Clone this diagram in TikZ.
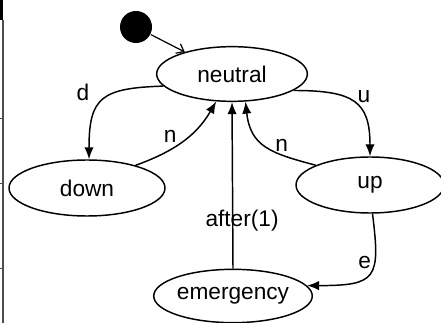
\documentclass[tikz,border=0pt]{standalone}
\usepackage{fontspec}
\setmainfont{Liberation Sans}
\usetikzlibrary{shapes.geometric,arrows.meta}
\begin{document}
\begin{tikzpicture}[x=0.75pt,y=-0.75pt,line width=1.1pt,
  every node/.style={font=\fontsize{17}{20}\selectfont},
  sstate/.style={draw,ellipse,inner sep=0pt,minimum height=41pt},
  trans/.style={-{Latex[length=9pt,width=7pt]}},
  startdot/.style={circle,fill,inner sep=0pt,minimum size=24pt}]

  \useasboundingbox (0,0) rectangle (441,323);
  \clip (0,0) rectangle (441,323);

  % frame bits on the left
  \fill (0,0) rectangle (3,20);
  \draw[black!70,line width=1pt] (3,20) -- (3,323);
  \foreach \t in {118,183,268}
    \draw[black!70,line width=0.6pt] (0,\t) -- (3,\t);

  \node[startdot] (init) at (136,27) {};
  \node[sstate,minimum width=113pt] (neutral) at (232,74) {neutral};
  \node[sstate,minimum width=117pt,minimum height=42pt] (down) at (87,188) {down};
  \node[sstate,minimum width=111pt,minimum height=42pt] (up) at (370,185) {up};
  \node[sstate,minimum width=117pt,minimum height=40pt] (emergency) at (233,296) {emergency};

  \draw[-{Straight Barb[length=5pt,width=8pt]},line width=0.9pt] (init) -- (neutral.155);

  \draw[trans] (neutral.190) .. controls +(-62,2) and +(0,-62) ..
    node[pos=0.55,anchor=east,inner sep=0pt,xshift=-7.5pt,yshift=8pt]{d} (down.86);
  \draw[trans] (down.25) to[out=20,in=240]
    node[pos=0.45,above left,inner sep=1pt]{n} (neutral.240);
  \draw[trans] (emergency.north) --
    node[pos=0.29,xshift=7pt]{after(1)} (neutral.south);
  \draw[trans] (up.160) .. controls +(-45,-12) and +(5,45) ..
    node[pos=0.3,above,inner sep=1.5pt]{n} (neutral.296);
  \draw[trans] (neutral.345) .. controls +(60,0) and +(0,-55) ..
    node[pos=0.5,anchor=west,inner sep=0pt,xshift=2pt,yshift=4.5pt]{u} (up.north);
  \draw[trans] (up.-85) .. controls +(8,65) and +(70,0) ..
    node[pos=0.35,left,inner sep=2pt]{e} (emergency.8);

\end{tikzpicture}
\end{document}
